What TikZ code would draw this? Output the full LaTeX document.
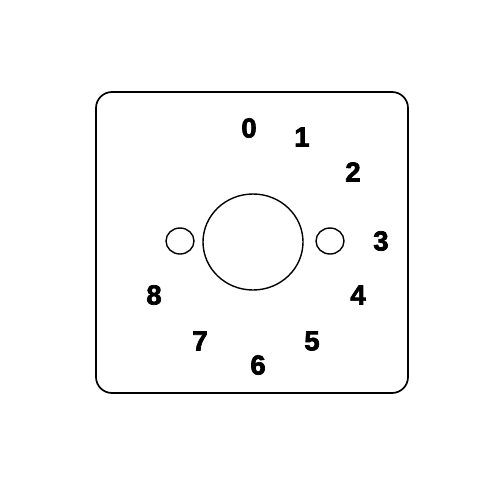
\documentclass[tikz,border=0pt]{standalone}
\usepackage{fontspec}
\setmainfont{Liberation Sans}
\newfontfamily\heavyfont[FakeBold=2.6]{Liberation Sans Bold}
\begin{document}
\begin{tikzpicture}[x=1pt,y=-1pt,
  outline/.style={line width=1.7pt,black},
  hole/.style={line width=1.4pt,black},
  num/.style={font=\fontsize{27.5}{27.5}\heavyfont,inner sep=0pt,anchor=center}]
\useasboundingbox (0,0) rectangle (500,500);
\draw[outline,rounded corners=16pt] (96,92) rectangle (408,393);
\draw[hole] (253,242) ellipse [x radius=50, y radius=48];
\draw[hole] (180,241) ellipse [x radius=14, y radius=13];
\draw[hole] (330,241) ellipse [x radius=14, y radius=13];
\node[num] (n0) at (249,128) {0};
\node[num] (n1) at (302,137) {1};
\node[num] (n2) at (353,172) {2};
\node[num] (n3) at (381,241) {3};
\node[num] (n4) at (358,295) {4};
\node[num] (n5) at (312,341) {5};
\node[num] (n6) at (258,365) {6};
\node[num] (n7) at (200,341) {7};
\node[num] (n8) at (154,295) {8};
\end{tikzpicture}
\end{document}
